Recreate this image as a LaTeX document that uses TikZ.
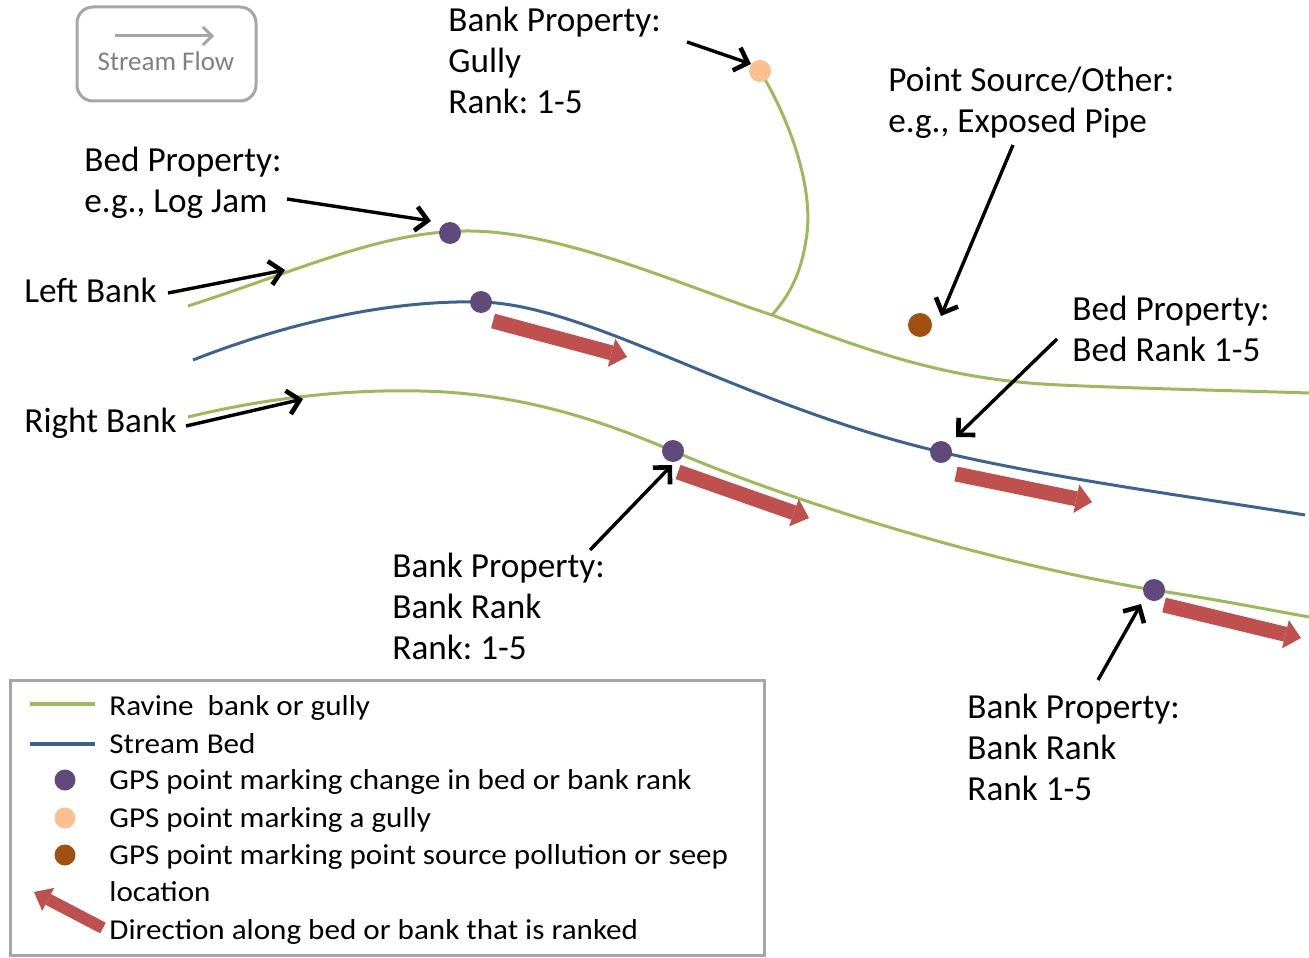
\documentclass[tikz,border=0pt]{standalone}
\usepackage{fontspec}
\setmainfont{Carlito}
\newfontfamily\legendfont{Carlito}[FakeStretch=1.08]
\usetikzlibrary{arrows.meta}
\frenchspacing

\definecolor{bankgreen}{HTML}{9BBB59}
\definecolor{bedblue}{HTML}{3B6391}
\definecolor{gpspurple}{HTML}{604A7B}
\definecolor{gullyorange}{HTML}{FAC090}
\definecolor{pipebrown}{HTML}{A0500F}
\definecolor{rankred}{HTML}{C0504D}
\definecolor{framegray}{HTML}{A6A6A6}

\begin{document}
\begin{tikzpicture}[x=0.5pt,y=-0.5pt,
  bankline/.style={draw=bankgreen, line width=1.5pt},
  bedline/.style={draw=bedblue, line width=1.5pt},
  gpsdot/.style={circle, inner sep=0pt, minimum size=11pt, fill=#1},
  callout/.style={draw=black, line width=1.7pt,
    -{Straight Barb[length=6pt,width=12pt,line width=2.3pt]}},
  rankarrow/.style={draw=rankred, line width=7.5pt,
    -{Triangle[length=8pt,width=14.5pt,line width=0pt]}},
  lbl/.style={font=\fontsize{17.6}{20.5}\selectfont, align=left, anchor=base west, inner sep=0pt},
  legtxt/.style={font=\legendfont\fontsize{14.4}{18.7}\selectfont, anchor=base west, inner sep=0pt},
]
\useasboundingbox (0,0) rectangle (1309,957);

% ---------- stream flow key ----------
\draw[framegray, line width=1.5pt, rounded corners=8pt] (77,7) rectangle (256,101);
\coordinate (sfa) at (115,36);
\coordinate (sfb) at (214,36);
\draw[framegray, line width=1.5pt, -{Straight Barb[length=4.5pt,width=9pt]}] (sfa) -- (sfb);
\node[font=\fontsize{13.5}{16}\selectfont, text=gray, anchor=base, inner sep=0pt] (sftxt) at (166,71) {Stream Flow};

% ---------- banks, bed and gully ----------
\draw[bankline] (188,306) .. controls (300,270) and (380,232) .. (465,231)
  .. controls (560,230) and (680,285) .. (772,315)
  .. controls (880,355) and (950,380) .. (1060,385)
  .. controls (1150,389) and (1250,391) .. (1309,393);
\draw[bankline] (760,71) .. controls (790,120) and (815,190) .. (806,240)
  .. controls (800,280) and (785,300) .. (772,315);
\draw[bedline] (193,360) .. controls (300,318) and (400,300) .. (481,302)
  .. controls (590,305) and (740,405) .. (941,452)
  .. controls (1050,478) and (1200,498) .. (1305,515);
\draw[bankline] (188,417) .. controls (250,402) and (330,389) .. (420,391)
  .. controls (520,393) and (600,420) .. (673,451)
  .. controls (800,505) and (1000,565) .. (1154,590)
  .. controls (1220,600) and (1270,610) .. (1309,617);

% ---------- ranked directions ----------
\coordinate (r1a) at (493,321); \coordinate (r1b) at (627,357);
\coordinate (r2a) at (678,472); \coordinate (r2b) at (809,518);
\coordinate (r3a) at (956,474); \coordinate (r3b) at (1092,502);
\coordinate (r4a) at (1164,605); \coordinate (r4b) at (1301,638);
\draw[rankarrow] (r1a) -- (r1b);
\draw[rankarrow] (r2a) -- (r2b);
\draw[rankarrow] (r3a) -- (r3b);
\draw[rankarrow] (r4a) -- (r4b);

% ---------- GPS points ----------
\node[gpsdot=gpspurple] (logjam) at (450,233) {};
\node[gpsdot=gpspurple] (bed1) at (481,302) {};
\node[gpsdot=gpspurple] (bank1) at (673,451) {};
\node[gpsdot=gpspurple] (bed2) at (941,452) {};
\node[gpsdot=gpspurple] (bank2) at (1154,590) {};
\node[gpsdot=gullyorange] (gully) at (760,71) {};
\node[gpsdot=pipebrown, minimum size=12pt] (pipe) at (920,325) {};

% ---------- labels (anchored at the baseline of the last line) ----------
\node[lbl] (tgully) at (448,114) {Bank Property:\\Gully\\Rank: 1-5};
\node[lbl] (tlogjam) at (84,213) {Bed Property:\\e.g., Log Jam};
\node[lbl] (tleft) at (24,302) {Left Bank};
\node[lbl] (tright) at (24,432) {Right Bank};
\node[lbl] (tpipe) at (888,133) {Point Source/Other:\\e.g., Exposed Pipe};
\node[lbl] (tbed) at (1072,361) {Bed Property:\\Bed Rank 1-5};
\node[lbl] (tbank1) at (392,659) {Bank Property:\\Bank Rank\\Rank: 1-5};
\node[lbl] (tbank2) at (967,800) {Bank Property:\\Bank Rank\\Rank 1-5};

% ---------- callout arrows ----------
\coordinate (c1a) at (287,199); \coordinate (c1b) at (431,221);
\coordinate (c2a) at (168,293); \coordinate (c2b) at (285,270);
\coordinate (c3a) at (186,426); \coordinate (c3b) at (303,399);
\coordinate (c4a) at (687,42);  \coordinate (c4b) at (751,64);
\coordinate (c5a) at (1013,145); \coordinate (c5b) at (941,316);
\coordinate (c6a) at (1057,339); \coordinate (c6b) at (956,437);
\coordinate (c7a) at (590,550); \coordinate (c7b) at (672,465);
\coordinate (c8a) at (1098,680); \coordinate (c8b) at (1141,604);
\foreach \i in {1,...,8} { \draw[callout] (c\i a) -- (c\i b); }

% ---------- legend ----------
\draw[framegray, line width=1.5pt] (10,680) rectangle (764,955);
\coordinate (lg1a) at (30,704); \coordinate (lg1b) at (95,704);
\coordinate (lg2a) at (30,744); \coordinate (lg2b) at (95,744);
\draw[draw=bankgreen, line width=2pt] (lg1a) -- (lg1b);
\draw[draw=bedblue, line width=2pt] (lg2a) -- (lg2b);
\node[gpsdot=gpspurple, minimum size=10.5pt] (lgd1) at (65,780) {};
\node[gpsdot=gullyorange, minimum size=10.5pt] (lgd2) at (65,818) {};
\node[gpsdot=pipebrown, minimum size=10.5pt] (lgd3) at (65,855) {};
\coordinate (lgra) at (103,928); \coordinate (lgrb) at (34,892);
\draw[draw=rankred, line width=6pt, -{Triangle[length=8pt,width=13pt,line width=0pt]}] (lgra) -- (lgrb);
\node[legtxt] (l1) at (109,715) {Ravine\ \ bank or gully};
\node[legtxt] (l2) at (109,753) {Stream Bed};
\node[legtxt] (l3) at (109,789) {GPS point marking change in bed or bank rank};
\node[legtxt] (l4) at (109,827) {GPS point marking a gully};
\node[legtxt] (l5) at (109,864) {GPS point marking point source pollution or seep};
\node[legtxt] (l6) at (109,901) {location};
\node[legtxt] (l7) at (109,939) {Direction along bed or bank that is ranked};
\end{tikzpicture}
\end{document}
